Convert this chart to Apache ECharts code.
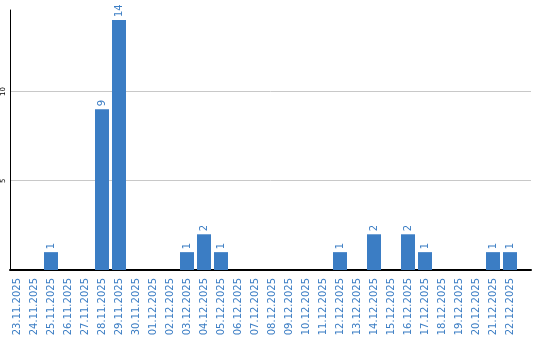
<!DOCTYPE html>
<html>
<head>
<meta charset="utf-8">
<script src="https://cdn.jsdelivr.net/npm/echarts@6/dist/echarts.min.js"></script>
<style>html,body{margin:0;padding:0;background:#fff}#c{width:540px;height:340px}</style>
</head>
<body>
<div id="c"></div>
<script>
const categories = ["23.11.2025","24.11.2025","25.11.2025","26.11.2025","27.11.2025","28.11.2025","29.11.2025","30.11.2025","01.12.2025","02.12.2025","03.12.2025","04.12.2025","05.12.2025","06.12.2025","07.12.2025","08.12.2025","09.12.2025","10.12.2025","11.12.2025","12.12.2025","13.12.2025","14.12.2025","15.12.2025","16.12.2025","17.12.2025","18.12.2025","19.12.2025","20.12.2025","21.12.2025","22.12.2025"];
const values = [0,0,1,0,0,9,14,0,0,0,1,2,1,0,0,0,0,0,0,1,0,2,0,2,1,0,0,0,1,1];
const yMax = 14.56;
const yInterval = 5;

const blue = '#3b7dc4';
const chart = echarts.init(document.getElementById('c'));
chart.setOption({
  backgroundColor: '#fff',
  animation: false,
  grid: [
    {left: 10, right: 9, top: 10, bottom: 70},
    {left: 8.5, width: 510, top: 10, bottom: 70}
  ],
  xAxis: [
    {gridIndex: 0, type: 'value', min: 0, max: 1,
     axisLine: {show: true, lineStyle: {color: '#000', width: 2}},
     axisTick: {show: false}, axisLabel: {show: false}, splitLine: {show: false}},
    {gridIndex: 1, type: 'category', data: categories,
     axisLine: {show: false}, axisTick: {show: false}, splitLine: {show: false},
     axisLabel: {interval: 0, rotate: 90, color: blue, fontSize: 10,
                 fontFamily: 'DejaVu Sans', margin: 8}}
  ],
  yAxis: [
    {gridIndex: 0, type: 'value', min: 0, max: yMax, interval: yInterval,
     axisLine: {show: true, lineStyle: {color: '#000', width: 1}},
     axisTick: {show: false},
     axisLabel: {rotate: 90, color: '#000', fontSize: 7, fontFamily: 'DejaVu Sans',
                 margin: 3, showMinLabel: false, showMaxLabel: false},
     splitLine: {show: true, showMinLine: false, showMaxLine: false,
                 lineStyle: {color: '#c8c8c8', width: 1}}},
    {gridIndex: 1, type: 'value', min: 0, max: yMax, show: false}
  ],
  series: [{
    type: 'bar', xAxisIndex: 1, yAxisIndex: 1, data: values, barWidth: 14,
    itemStyle: {color: blue},
    label: {show: true, position: 'top', rotate: 90, align: 'left', verticalAlign: 'middle',
            distance: 3, color: blue, fontSize: 10, fontFamily: 'DejaVu Sans',
            formatter: p => p.value ? String(p.value) : ''}
  }]
});
</script>
</body>
</html>
